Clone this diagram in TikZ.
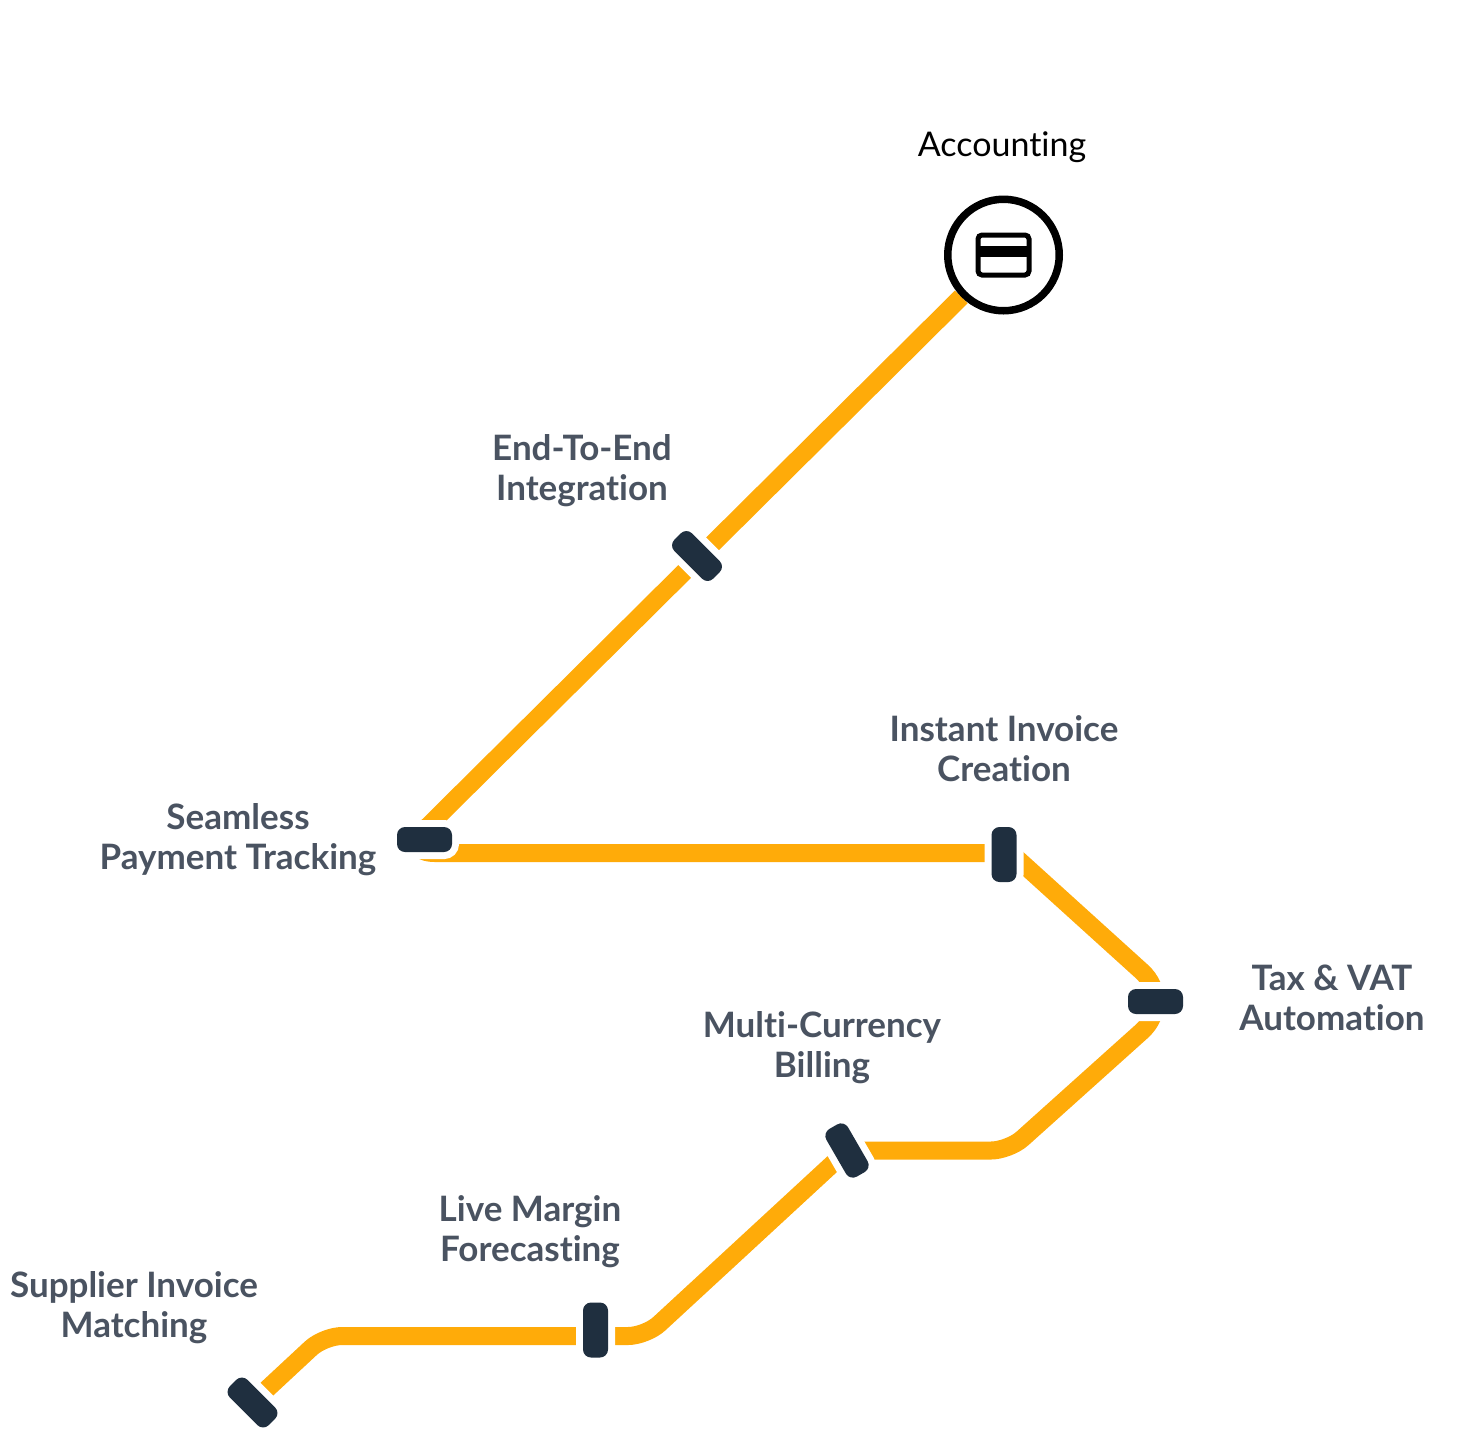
\documentclass[tikz,border=0pt]{standalone}
\usepackage{fontspec}
\usepackage{xcolor}
\usetikzlibrary{positioning, backgrounds}
\setmainfont[Ligatures=NoCommon]{Lato}
\definecolor{Track_Amber}{HTML}{FFAB09}
\definecolor{Stop_Navy}{HTML}{1F2F3F}
\definecolor{Label_Slate}{HTML}{4A5361}

\begin{document}
\begin{tikzpicture}[x=1pt, y=-1pt,
    track/.style={draw=Track_Amber, line width=18pt},
    stop/.style={rectangle, rounded corners=8pt, minimum width=55pt, minimum height=25pt, inner sep=0pt,
        fill=Stop_Navy, preaction={draw=white, line width=14pt}},
    stoplabel/.style={font=\fontsize{35}{40}\selectfont\bfseries, text=Label_Slate, align=center}]

    \useasboundingbox (0,0) rectangle (1472,1441);

    % === Terminus ===
    \node[circle, draw=black, fill=white, line width=7.5pt, minimum size=111.5pt, inner sep=0pt] (accounting) at (1003.5,255) {};
    \node[rectangle, draw=black, line width=5pt, rounded corners=4pt, minimum width=51pt, minimum height=40pt, inner sep=0pt] (card) at (accounting) {};
    \fill[black] (card.west) ++(0,-9.5) rectangle ++(51,11);
    \node[font=\fontsize{34}{40}\selectfont, text=black] (accountingLabel) at (1002,147) {Accounting};

    % === Stops along the line ===
    \node[stop, rotate=-45] (integration) at (697,556) {};
    \node[stop] (tracking) at (424.5,839.5) {};
    \node[stop, rotate=90] (invoice) at (1004,854.5) {};
    \node[stop] (vat) at (1155.5,1001.5) {};
    \node[stop, rotate=-60] (billing) at (847,1150.5) {};
    \node[stop, rotate=90] (margin) at (595.5,1330) {};
    \node[stop, rotate=-45] (matching) at (252.5,1402.5) {};

    % === Labels ===
    \node[stoplabel] (integrationLabel) at (582,471) {End-To-End\\Integration};
    \node[stoplabel] (trackingLabel) at (238,840) {Seamless\\Payment Tracking};
    \node[stoplabel] (invoiceLabel) at (1004,749) {Instant Invoice\\Creation};
    \node[stoplabel] (vatLabel) at (1332,998) {Tax \& VAT\\Automation};
    \node[stoplabel] (billingLabel) at (822,1048) {Multi-Currency\\Billing};
    \node[stoplabel] (marginLabel) at (530,1232) {Live Margin\\Forecasting};
    \node[stoplabel] (matchingLabel) at (134,1308) {Supplier Invoice\\Matching};

    % === Bends of the line ===
    \coordinate (bendTracking) at (401,853);
    \coordinate (bendInvoice) at (1011,853);
    \coordinate (bendVat) at (1175,1001.5);
    \coordinate (bendBilling) at (1009,1150.5);
    \coordinate (bendMarginRight) at (646,1336);
    \coordinate (bendMarginLeft) at (324,1336);

    \begin{scope}[on background layer]
        \draw[track, rounded corners=34pt] (accounting) -- (bendTracking) -- (bendInvoice);
        \draw[track] (bendInvoice) [rounded corners=45pt] -- (bendVat) [rounded corners=18pt] -- (bendBilling) -- (billing);
        \draw[track, rounded corners=18pt] (billing) -- (bendMarginRight) -- (bendMarginLeft) -- (matching);
    \end{scope}

\end{tikzpicture}
\end{document}
